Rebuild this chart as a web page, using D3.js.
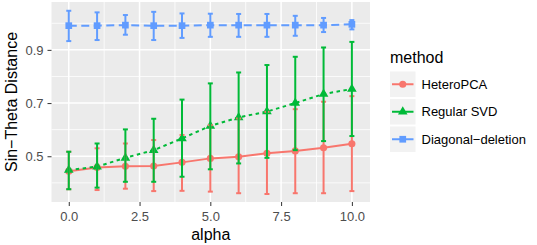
<!DOCTYPE html>
<html>
<head>
<meta charset="utf-8">
<script src="https://cdn.jsdelivr.net/npm/d3@7"></script>
<style>
  body { margin: 0; background: #fff; }
  text { font-family: "Liberation Sans", Arial, sans-serif; }
</style>
</head>
<body>
<svg id="chart" width="537" height="245"></svg>
<script>
// data
var alphaVals  = [0, 1, 2, 3, 4, 5, 6, 7, 8, 9, 10];
var heteroMean = [0.444, 0.458, 0.462, 0.463, 0.477, 0.492, 0.498, 0.511, 0.520, 0.532, 0.547];
var heteroLo   = [0.376, 0.373, 0.378, 0.369, 0.370, 0.367, 0.361, 0.358, 0.361, 0.361, 0.369];
var heteroHi   = [0.517, 0.530, 0.548, 0.561, 0.580, 0.617, 0.642, 0.667, 0.677, 0.705, 0.726];
var svdMean    = [0.448, 0.461, 0.494, 0.523, 0.567, 0.614, 0.646, 0.668, 0.700, 0.734, 0.753];
var svdLo      = [0.376, 0.382, 0.404, 0.404, 0.423, 0.451, 0.473, 0.494, 0.523, 0.557, 0.576];
var svdHi      = [0.517, 0.548, 0.601, 0.641, 0.713, 0.774, 0.815, 0.843, 0.874, 0.909, 0.930];
var diagMean   = [0.991, 0.991, 0.993, 0.991, 0.991, 0.993, 0.993, 0.993, 0.993, 0.993, 0.996];
var diagLo     = [0.933, 0.937, 0.957, 0.937, 0.945, 0.949, 0.949, 0.949, 0.953, 0.967, 0.977];
var diagHi     = [1.047, 1.041, 1.031, 1.043, 1.037, 1.036, 1.035, 1.035, 1.028, 1.020, 1.012];
var methods    = ["HeteroPCA", "Regular SVD", "Diagonal\u2212deletion"];
var xTicks     = [0, 2.5, 5, 7.5, 10];
var yTicks     = [0.5, 0.7, 0.9];

var bar = d3.select("#chart");
var panel = {left: 51.5, right: 370, top: 2, bottom: 202};

var xScale = d3.scaleLinear().domain([-0.61, 10.64]).range([panel.left, panel.right]);
var yScale = d3.scaleLinear().domain([0.328, 1.080]).range([panel.bottom, panel.top]);

var series = [
  {name: methods[0], mean: heteroMean, lo: heteroLo, hi: heteroHi, color: "#F8766D", dash: null,  shape: d3.symbolCircle,   size: 40},
  {name: methods[1], mean: svdMean,    lo: svdLo,    hi: svdHi,    color: "#00BA38", dash: "3.5,3.5", shape: d3.symbolTriangle, size: 40},
  {name: methods[2], mean: diagMean,   lo: diagLo,   hi: diagHi,   color: "#619CFF", dash: "8,4.5", shape: d3.symbolSquare,   size: 45}
];

// panel background + grid
bar.append("rect")
   .attr("x", panel.left).attr("y", panel.top)
   .attr("width", panel.right - panel.left).attr("height", panel.bottom - panel.top)
   .style("fill", "#EBEBEB");

var minorX = [1.25, 3.75, 6.25, 8.75];
var minorY = [0.4, 0.6, 0.8, 1.0];
minorX.forEach(function(v) {
  bar.append("line").attr("x1", xScale(v)).attr("x2", xScale(v)).attr("y1", panel.top).attr("y2", panel.bottom)
     .style("stroke", "#fff").style("stroke-width", 0.8);
});
minorY.forEach(function(v) {
  bar.append("line").attr("x1", panel.left).attr("x2", panel.right).attr("y1", yScale(v)).attr("y2", yScale(v))
     .style("stroke", "#fff").style("stroke-width", 0.8);
});
xTicks.forEach(function(v) {
  bar.append("line").attr("x1", xScale(v)).attr("x2", xScale(v)).attr("y1", panel.top).attr("y2", panel.bottom)
     .style("stroke", "#fff").style("stroke-width", 1.5);
});
yTicks.forEach(function(v) {
  bar.append("line").attr("x1", panel.left).attr("x2", panel.right).attr("y1", yScale(v)).attr("y2", yScale(v))
     .style("stroke", "#fff").style("stroke-width", 1.5);
});

// axes
var gx = bar.append("g").attr("transform", "translate(0," + panel.bottom + ")")
   .call(d3.axisBottom(xScale).tickValues(xTicks).tickFormat(d3.format(".1f")).tickSize(4).tickPadding(6));
var gy = bar.append("g").attr("transform", "translate(" + panel.left + ",0)")
   .call(d3.axisLeft(yScale).tickValues(yTicks).tickFormat(d3.format(".1f")).tickSize(4).tickPadding(4));
[gx, gy].forEach(function(g) {
  g.select(".domain").remove();
  g.selectAll(".tick line").style("stroke", "#333").style("stroke-width", 1);
  g.selectAll(".tick text").style("fill", "#4D4D4D").style("font-size", "13px")
   .style("font-family", "Liberation Sans, Arial, sans-serif");
});

bar.append("text").attr("x", (panel.left + panel.right) / 2).attr("y", 239.5)
   .text("alpha").style("font-size", "16px").style("text-anchor", "middle").style("fill", "#000");
bar.append("text").attr("transform", "translate(17," + ((panel.top + panel.bottom) / 2) + ") rotate(-90)")
   .text("Sin\u2212Theta Distance").style("font-size", "16px").style("text-anchor", "middle").style("fill", "#000");

// lines, points, error bars
var line = d3.line().x(function(d, i) { return xScale(alphaVals[i]); }).y(function(d) { return yScale(d); });
var capHalf = 2.5;

series.forEach(function(s) {
  bar.append("path").datum(s.mean).attr("d", line)
     .style("fill", "none").style("stroke", s.color).style("stroke-width", 2)
     .style("stroke-dasharray", s.dash);
});
series.forEach(function(s) {
  bar.append("g").selectAll("path").data(s.mean).enter().append("path")
     .attr("d", d3.symbol().type(s.shape).size(s.size))
     .attr("transform", function(d, i) { return "translate(" + xScale(alphaVals[i]) + "," + yScale(d) + ")"; })
     .style("fill", s.color);
});
series.forEach(function(s) {
  var g = bar.append("g").style("stroke", s.color).style("stroke-width", 2).style("fill", "none");
  alphaVals.forEach(function(a, i) {
    var x = xScale(a), y1 = yScale(s.lo[i]), y2 = yScale(s.hi[i]);
    g.append("line").attr("x1", x).attr("x2", x).attr("y1", y1).attr("y2", y2);
    g.append("line").attr("x1", x - capHalf).attr("x2", x + capHalf).attr("y1", y1).attr("y2", y1);
    g.append("line").attr("x1", x - capHalf).attr("x2", x + capHalf).attr("y1", y2).attr("y2", y2);
  });
});

// legend
var lgX = 390, lgY = 71.5, keySize = 25.5, keyStep = 27.5;
bar.append("text").attr("x", lgX).attr("y", 63).text("method")
   .style("font-size", "16px").style("fill", "#000");
series.forEach(function(s, i) {
  var ky = lgY + i * keyStep;
  bar.append("rect").attr("x", lgX).attr("y", ky).attr("width", keySize).attr("height", keySize)
     .style("fill", "#F2F2F2");
  bar.append("line").attr("x1", lgX + 2).attr("x2", lgX + keySize - 2)
     .attr("y1", ky + keySize / 2).attr("y2", ky + keySize / 2)
     .style("stroke", s.color).style("stroke-width", 2);
  bar.append("path").attr("d", d3.symbol().type(s.shape).size(s.size))
     .attr("transform", "translate(" + (lgX + keySize / 2) + "," + (ky + keySize / 2) + ")")
     .style("fill", s.color);
  bar.append("text").attr("x", 421.5).attr("y", ky + keySize / 2).attr("dy", "0.35em")
     .text(s.name).style("font-size", "13px").style("fill", "#000");
});
</script>
</body>
</html>
